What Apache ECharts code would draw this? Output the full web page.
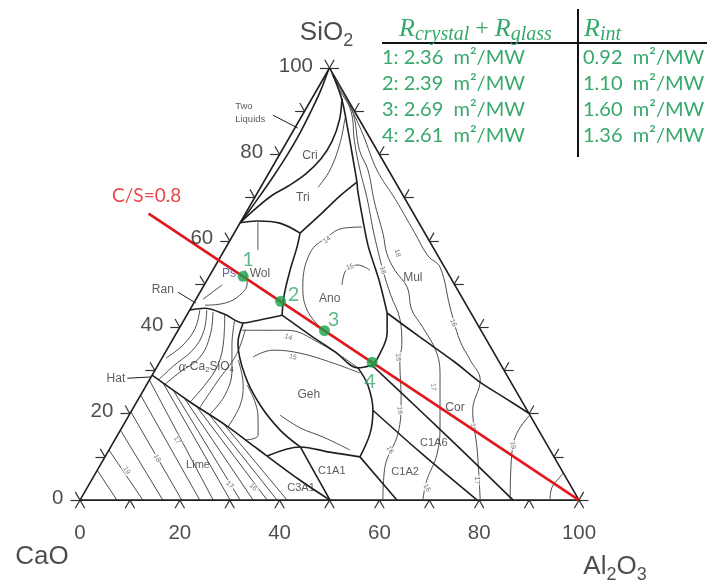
<!DOCTYPE html>
<html>
<head>
<meta charset="utf-8">
<title>CaO-SiO2-Al2O3 liquidus</title>
<script src="https://cdn.jsdelivr.net/npm/echarts@6.0.0/dist/echarts.min.js"></script>
<style>
  html, body { margin: 0; padding: 0; background: #fff; }
  #chart { width: 713px; height: 583px; }
</style>
</head>
<body>
<div id="chart"></div>
<script>
// every composition below is [Al2O3 wt%, SiO2 wt%]; CaO is the rest
const tickValues = [0, 10, 20, 30, 40, 50, 60, 70, 80, 90, 100];
const tickLabels = [0, 20, 40, 60, 80, 100];

// liquidus field boundaries
const twoLiquid = [[0, 99.5], [0.8, 95], [1.3, 90], [1.6, 85], [1.6, 80], [1.3, 75], [0.8, 70], [0.3, 66], [0, 64.2]];
const criTri = [[6, 93], [8, 88], [9, 83], [8.8, 79], [7.5, 75.5], [5.5, 72.8], [3.2, 70.5], [1.5, 67.5], [0, 64.2]];
const silicaRight = [[1.5, 98.4], [6.2, 92.6], [10.9, 85.6], [15.4, 78.7], [18.7, 73.6], [19.8, 71.7], [24.3, 64.8], [28.2, 59], [30.5, 56], [35, 50.2], [39.9, 43.3]];
const silicaWol = [[0, 64.2], [3.2, 64.6], [8, 64.1], [13.2, 61.8]];
const silicaAno = [[13.2, 61.8], [15.1, 66], [16.9, 70.4], [18.7, 73.6]];
const anoCor = [[39.9, 43.3], [42.2, 38.7], [43.2, 33.1], [42.9, 31.2]];
const mulCor = [[39.9, 43.3], [49.3, 37.7], [59.2, 31.9], [66.5, 27.3], [73.4, 23.6], [79.9, 20.1]];
const anoWol = [[13.2, 61.8], [14.2, 58.6], [15.5, 53.2], [17.2, 47.4], [19.1, 42.8]];
const wolC2s = [[0, 44], [2.8, 44.4], [7.5, 43], [12.2, 41], [15.2, 41.7], [19.1, 42.8]];
const anoGeh = [[19.1, 42.8], [27, 38.2], [34, 34.3], [40.4, 30.6], [42.9, 31.2]];
const gehRight = [[40.4, 30.6], [44.4, 26.6], [48.3, 20.8], [50.4, 15.5], [51.1, 10]];
const c2sGeh = [[12.2, 41], [13.5, 36.3], [18.6, 28.9], [25.1, 22], [32, 16.2], [38, 12.3]];
const c2sLime = [[0, 28.9], [10.7, 22.7], [20.4, 17.4], [28.9, 12.3], [32.4, 10.2]];
const gehBottom = [[32.4, 10.2], [38, 12.3], [44.5, 11.1], [51.1, 10]];
const limeC3a = [[32.4, 10.2], [41.8, 4.6], [50.1, 0]];
const c1a1Left = [[38, 12.3], [44.4, 5.8], [50.1, 0]];
const c1a1C1a2 = [[51.1, 10], [63.5, 0]];
const c1a2C1a6 = [[48.3, 20.8], [62.6, 11.1], [79.6, 0]];
const c1a6Cor = [[42.9, 31.2], [57.7, 20.8], [73.3, 9.7], [86.8, 0]];

// isotherms
const silIso = [[8.9, 88.4], [10.8, 82.6], [11.9, 76.4], [11.5, 72.4]];
const mulIso1 = [[1, 98.8], [4.5, 95], [9.3, 90], [13.5, 83], [17.9, 76.4], [22.5, 70], [27.5, 62.5], [31, 57.5], [34.1, 53.2], [38.5, 47.5], [43.3, 41.7], [46.5, 36], [47.9, 32.4], [52.8, 23.1], [56, 15.5], [57.3, 7.6], [60.7, 0]];
const mulIso2 = [[1.8, 98], [6, 93.8], [10, 89.5], [15.5, 81], [19.5, 76.4], [24.5, 69], [30, 61.5], [33, 57], [36.5, 53.2], [40.9, 49.3], [44.5, 44], [48.7, 40], [54.5, 34], [57.9, 28.5], [63.7, 16.9], [66.3, 10.4], [67.2, 4.6], [68.7, 0]];
const mulIso3 = [[2.6, 97.3], [8.5, 91.2], [14.5, 84.5], [21.3, 76.4], [28.5, 69.5], [36, 62], [41.5, 56.5], [45.2, 53.9], [51.8, 44.7], [57.6, 37], [62, 32.4], [66.3, 27.8], [68.3, 20.8], [73.8, 11.6], [80.2, 0]];
const corIso = [[80.3, 19.7], [79.8, 15.5], [81.1, 10.9], [86.2, 0]];
const cornerIso = [[93.7, 6.25], [93.5, 5.3], [93.1, 3], [94.2, 0]];
const anoIso1 = [[28.1, 40], [23.5, 44], [20, 49.3], [17.5, 57.2], [19.1, 60.9], [21.2, 62.9], [24.9, 63.2]];
const anoIso2 = [[27.6, 49.8], [26.7, 52.8], [27.2, 53.9], [28.5, 54.4], [31.5, 53.2]];
const gehIso1 = [[12.8, 39.3], [21.8, 39.3], [29.9, 36.3], [40.1, 30.8]];
const gehIso2 = [[18.1, 33.1], [21.3, 34.7], [27.1, 34], [34.9, 31.7], [41.4, 29.4]];
const gehIso3 = [[30.2, 19.7], [35.8, 16.7], [41.4, 14.6], [48.3, 11.6]];
const c2sIso1 = [[2, 44], [3.2, 39.8], [2.7, 35.9], [0.8, 32.9]];
const c2sIso2 = [[4.9, 43.5], [7, 38.2], [7.5, 33.1], [5.2, 29.6], [3.6, 26.8]];
const c2sIso3 = [[7.5, 43], [10.3, 37], [12, 31.2], [11.7, 26.6], [10.7, 22.7]];
const c2sIso4 = [[10.2, 41.6], [12.5, 35.9], [15.4, 30.1], [16.9, 24.3], [16.1, 19.9]];
const c2sIso5 = [[15.5, 32.4], [19.4, 26.6], [21.1, 22], [21.2, 16.9]];
const c2sIso6 = [[20.2, 26.6], [25.8, 19.7], [28.2, 15], [26.1, 13.9]];
const c2sIso7 = [[3.4, 44], [5.2, 39.3], [5.3, 35], [3.2, 31], [1.8, 27.8]];
const c2sIso8 = [[13.4, 39.5], [14.5, 33.5], [13.8, 27.5], [13.3, 21.3]];
const wolIso1 = [[3.5, 64.3], [6.7, 57.9]];
const wolIso2 = [[2.5, 45.1], [6.3, 45.6], [8.3, 47.4], [8.4, 50.2], [6.5, 53.2]];
const ranIso = [[1.4, 46.5], [3.6, 49.8]];

// lime field hatching: top end (Al2O3, SiO2) and bottom end Al2O3
const hatchTopAl = [0, 0, 0, 0, 0, 0, 3, 6, 9, 12.5, 16, 20];
const hatchTopSi = [6.9, 11.6, 16.2, 20.4, 24.3, 27.8, 27.2, 25.4, 23.7, 21.7, 19.8, 17.6];
const hatchBottomAl = [7.4, 12.6, 16.6, 20.4, 24, 26.7, 30.1, 32.1, 34.7, 37.5, 39.5, 41.5];

// small isotherm temperature tags (hundreds of °C)
const tagText = ['19', '18', '17', '17', '16', '14', '15', '14', '15', '18', '16', '16', '18', '17', '16', '18', '19', '17', '16', '16'];
const tagAl2O3 = [5.9, 10.6, 12.5, 28.3, 33.2, 22.9, 26.1, 19.4, 27.2, 35.0, 34.1, 54.3, 47.2, 57.7, 53.7, 70.3, 80.4, 77.2, 56.3, 68.1];
const tagSiO2 = [6.9, 9.7, 13.9, 3.5, 3.0, 37.7, 33.1, 60.2, 53.9, 57.2, 53.2, 41.0, 33.1, 26.2, 20.8, 16.9, 12.7, 4.6, 11.6, 2.8];
const tagAngle = [-60, -60, -60, -45, -45, -20, -10, 35, 20, -75, -75, -70, -85, -85, -85, -85, -80, -90, -60, -60];

// pointer lines from outside labels
const pointerTwoLiquids = [[-5.9, 89.1], [0.6, 86.1]];
const pointerRan = [[-4.4, 48.1], [0.4, 45.6]];
const pointerHat = [[-4.6, 28.2], [0, 28.5]];

// C/S = 0.8 line and the four samples on it
const csLine = [[-19.4, 66.3], [100, 0]];
const sampleIds = ['1', '2', '3', '4'];
const sampleAl2O3 = [6.8, 17.2, 29.4, 42.6];
const sampleSiO2 = [51.8, 46.0, 39.2, 31.9];

// resistance table (m2/MW)
const rCrystalGlass = [2.36, 2.39, 2.69, 2.61];
const rInt = [0.92, 1.10, 1.60, 1.36];

// primary phase field names
const fieldNames = ['Cri', 'Tri', 'Ps', 'Wol', 'Ran', 'Hat', 'Geh', 'Ano', 'Mul', 'Cor', 'Lime', 'C1A1', 'C1A2', 'C1A6', 'C3A1'];
const fieldAl2O3 = [6.2, 9.6, 3.6, 9.8, -7.7, -6.9, 33.7, 26.7, 41.0, 64.4, 19.6, 47.1, 61.9, 64.3, 42.9];
const fieldSiO2 = [79.8, 70.1, 52.5, 52.5, 48.6, 28.2, 24.3, 46.7, 51.4, 21.5, 8.1, 6.7, 6.5, 13.2, 2.8];

const H = Math.sqrt(3) / 2;
const toXY = p => [p[0] + p[1] / 2, p[1] * H];

const green = '#36a86b';
const ink = '#1f1f1f';
const grey = '#4d4d4d';
const sans = '"Liberation Sans", Arial, sans-serif';
const calib = 'Lato, "Open Sans", sans-serif';

const series = [];

function curve(pts, width, color, smooth, z) {
  series.push({
    type: 'line', data: pts.map(toXY), symbol: 'none', smooth: smooth,
    clip: false, silent: true, animation: false, z: z || 3,
    lineStyle: { width: width, color: color }
  });
}

// triangle frame
curve([[0, 0], [100, 0], [0, 100], [0, 0]], 1.6, ink, false, 2);

// tick marks on all three sides
const L = 1.9;
const ticks = [];
tickValues.forEach(v => {
  const b = toXY([v, 0]);
  ticks.push([b, [b[0] - L / 2, -L * H]], [b, [b[0] + L / 2, -L * H]]);
  const l = toXY([0, v]);
  ticks.push([l, [l[0] - L, l[1]]], [l, [l[0] - L / 2, l[1] + L * H]]);
  const r = toXY([100 - v, v]);
  ticks.push([r, [r[0] + L, r[1]]], [r, [r[0] + L / 2, r[1] + L * H]]);
});
series.push({
  type: 'lines', coordinateSystem: 'cartesian2d', clip: false, silent: true, animation: false, z: 2,
  lineStyle: { width: 1.2, color: '#333', opacity: 1 },
  data: ticks.map(c => ({ coords: c }))
});

// lime hatching
series.push({
  type: 'lines', coordinateSystem: 'cartesian2d', clip: false, silent: true, animation: false, z: 2,
  lineStyle: { width: 1, color: grey, opacity: 1 },
  data: hatchTopAl.map((a, i) => ({ coords: [toXY([a, hatchTopSi[i]]), toXY([hatchBottomAl[i], 0])] }))
});

// thin isotherms
[silIso, mulIso1, mulIso2, mulIso3, corIso, cornerIso, anoIso1, anoIso2, gehIso1, gehIso2, gehIso3,
 c2sIso1, c2sIso2, c2sIso3, c2sIso4, c2sIso5, c2sIso6, c2sIso7, c2sIso8, wolIso1, wolIso2, ranIso]
  .forEach(p => curve(p, 1, grey, 0.4, 2));

// thick boundaries
[twoLiquid, criTri, silicaRight, silicaWol, silicaAno, anoCor, mulCor, anoWol, wolC2s, anoGeh,
 gehRight, c2sGeh, c2sLime, gehBottom, limeC3a, c1a1Left, c1a1C1a2, c1a2C1a6, c1a6Cor]
  .forEach(p => curve(p, 1.6, ink, 0.35, 3));

[pointerTwoLiquids, pointerRan, pointerHat].forEach(p => curve(p, 1, ink, false, 3));

// C/S line
curve(csLine, 2.6, '#e3161d', false, 5);

// text helper: invisible scatter points carrying labels
function texts(items, z) {
  series.push({
    type: 'scatter', symbolSize: 1, itemStyle: { color: 'rgba(0,0,0,0)' },
    clip: false, silent: true, animation: false, z: z || 7,
    data: items
  });
}

// isotherm tags
texts(tagText.map((t, i) => ({
  value: toXY([tagAl2O3[i], tagSiO2[i]]),
  label: {
    show: true, position: 'inside', formatter: t, rotate: tagAngle[i], fontFamily: sans, fontSize: 7,
    color: '#555', backgroundColor: '#fff', padding: [0, 1]
  }
})), 4);

// field labels
texts(fieldNames.map((n, i) => ({
  value: toXY([fieldAl2O3[i], fieldSiO2[i]]),
  label: {
    show: true, position: 'inside', formatter: n, fontFamily: sans,
    fontSize: n.length > 3 ? 11 : 12, color: n === 'Ps' ? '#4b3f86' : '#333'
  }
})));
texts([
  {
    value: toXY([-13.7, 89.6]),
    label: { show: true, position: 'inside', align: 'left', formatter: 'Two\nLiquids', fontFamily: sans, fontSize: 9.5, lineHeight: 13, color: '#333' }
  },
  {
    value: toXY([9.9, 30.8]),
    label: {
      show: true, position: 'inside', formatter: '{a|α}{n|-Ca}{s|2}{n|SiO}{s|4}', color: '#333',
      rich: {
        a: { fontFamily: '"Liberation Serif", serif', fontStyle: 'italic', fontSize: 14, lineHeight: 14, color: '#333' },
        n: { fontFamily: sans, fontSize: 12, lineHeight: 14, color: '#333' },
        s: { fontFamily: sans, fontSize: 8, lineHeight: 8, verticalAlign: 'bottom', color: '#333' }
      }
    }
  }
]);

// axis tick numbers
texts(tickLabels.map(v => ({
  value: toXY([v, 0]),
  label: { show: true, position: 'inside', offset: [0, 33], formatter: String(v), fontFamily: sans, fontSize: 20.5, color: ink }
})));
texts(tickLabels.map(v => ({
  value: toXY([0, v]),
  label: { show: true, position: 'left', distance: 16, offset: [0, -2], formatter: String(v), fontFamily: sans, fontSize: 20.5, color: ink }
})));

// component names at the corners
const subRich = {
  m: { fontFamily: sans, fontSize: 26, lineHeight: 34, color: ink },
  s: { fontFamily: sans, fontSize: 18, lineHeight: 18, verticalAlign: 'bottom', color: ink }
};
texts([
  { value: toXY([0, 100]), label: { show: true, position: 'inside', offset: [-3, -35], formatter: '{m|SiO}{s|2}', rich: subRich } },
  { value: toXY([0, 0]), label: { show: true, position: 'inside', offset: [-38, 57], formatter: '{m|CaO}', rich: subRich } },
  { value: toXY([100, 0]), label: { show: true, position: 'inside', offset: [36, 67], formatter: '{m|Al}{s|2}{m|O}{s|3}', rich: subRich } }
]);

// C/S label at the start of the line
texts([{
  value: toXY(csLine[0]),
  label: { show: true, position: 'inside', offset: [-2, -18], formatter: 'C/S=0.8', fontFamily: calib, fontSize: 19, color: '#e3161d' }
}]);

// samples
const sampleOffsets = [[5, -17], [13, -7], [9, -11], [-2, 19]];
series.push({
  type: 'scatter', symbol: 'circle', symbolSize: 11, clip: false, silent: true, animation: false, z: 8,
  itemStyle: { color: '#15a34a' },
  data: sampleIds.map((id, i) => ({
    value: toXY([sampleAl2O3[i], sampleSiO2[i]]),
    label: { show: true, position: 'inside', offset: sampleOffsets[i], formatter: id, fontFamily: calib, fontSize: 20, color: green }
  }))
});

// table at top right
const rowY = [58, 84, 110, 136];
const headRich = {
  r: { font: 'italic 26px "Liberation Serif", serif', fill: green, lineHeight: 32 },
  p: { font: '24px "Liberation Serif", serif', fill: green, lineHeight: 32 },
  s: { font: 'italic 20px "Liberation Serif", serif', fill: green, lineHeight: 20, verticalAlign: 'bottom' }
};
const tableGraphic = [
  { type: 'line', shape: { x1: 382, y1: 43, x2: 707, y2: 43 }, style: { stroke: '#111', lineWidth: 2 } },
  { type: 'line', shape: { x1: 578, y1: 9, x2: 578, y2: 157 }, style: { stroke: '#111', lineWidth: 2 } },
  {
    type: 'text', x: 399, y: 29,
    style: { text: '{r|R}{s|crystal}{p| + }{r|R}{s|glass}', verticalAlign: 'middle', fill: green, rich: headRich }
  },
  {
    type: 'text', x: 584, y: 29,
    style: { text: '{r|R}{s|int}', verticalAlign: 'middle', fill: green, rich: headRich }
  }
];
sampleIds.forEach((id, i) => {
  tableGraphic.push({
    type: 'text', x: 382, y: rowY[i],
    style: { text: id + ': ' + rCrystalGlass[i].toFixed(2) + '  m²/MW', font: '20px ' + calib, fill: green, verticalAlign: 'middle' }
  });
  tableGraphic.push({
    type: 'text', x: 583, y: rowY[i],
    style: { text: rInt[i].toFixed(2) + '  m²/MW', font: '20px ' + calib, fill: green, verticalAlign: 'middle' }
  });
});

const chart = echarts.init(document.getElementById('chart'));
chart.setOption({
  animation: false,
  backgroundColor: '#fff',
  grid: { left: 80, top: 68, width: 499, height: 432.1 },
  xAxis: { type: 'value', min: 0, max: 100, show: false },
  yAxis: { type: 'value', min: 0, max: 100 * H, show: false },
  graphic: tableGraphic,
  series: series
});
</script>
</body>
</html>
